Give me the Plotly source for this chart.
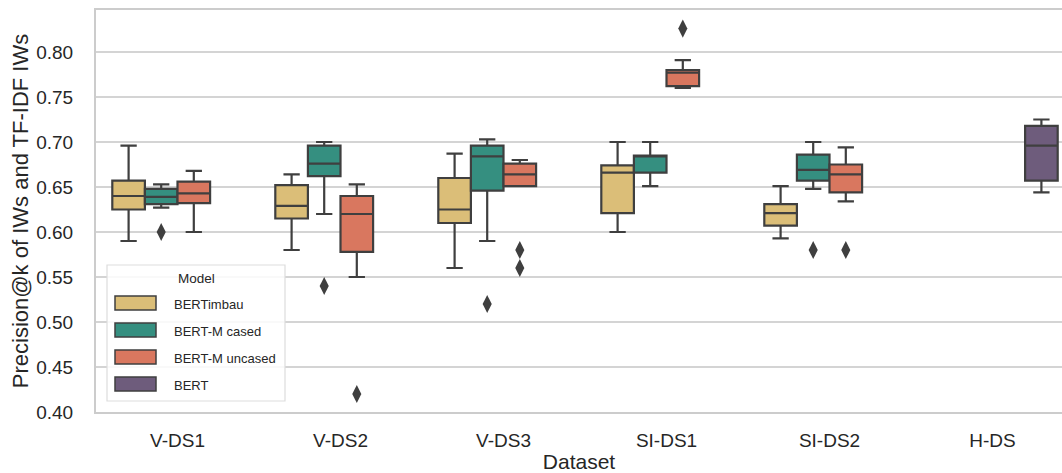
import plotly.graph_objects as go

# ---------------- data ----------------
datasets = ["V-DS1", "V-DS2", "V-DS3", "SI-DS1", "SI-DS2", "H-DS"]
models = ["BERTimbau", "BERT-M cased", "BERT-M uncased", "BERT"]

# per model: values per dataset (None = no box)
bertimbau_lower = [0.590, 0.580, 0.560, 0.600, 0.593, None]
bertimbau_q1 = [0.625, 0.615, 0.610, 0.621, 0.607, None]
bertimbau_median = [0.640, 0.629, 0.625, 0.666, 0.621, None]
bertimbau_q3 = [0.657, 0.652, 0.660, 0.674, 0.631, None]
bertimbau_upper = [0.696, 0.664, 0.687, 0.700, 0.651, None]

cased_lower = [0.627, 0.620, 0.590, 0.651, 0.648, None]
cased_q1 = [0.631, 0.662, 0.646, 0.666, 0.657, None]
cased_median = [0.639, 0.676, 0.684, 0.685, 0.669, None]
cased_q3 = [0.648, 0.696, 0.696, 0.685, 0.686, None]
cased_upper = [0.653, 0.700, 0.703, 0.700, 0.700, None]

uncased_lower = [0.600, 0.550, 0.651, 0.760, 0.634, None]
uncased_q1 = [0.632, 0.578, 0.651, 0.762, 0.644, None]
uncased_median = [0.643, 0.620, 0.664, 0.777, 0.664, None]
uncased_q3 = [0.656, 0.640, 0.676, 0.780, 0.675, None]
uncased_upper = [0.668, 0.653, 0.680, 0.791, 0.694, None]

bert_lower = [None, None, None, None, None, 0.644]
bert_q1 = [None, None, None, None, None, 0.657]
bert_median = [None, None, None, None, None, 0.696]
bert_q3 = [None, None, None, None, None, 0.718]
bert_upper = [None, None, None, None, None, 0.725]

# outliers: (dataset, value)
bertimbau_outliers = []
cased_outliers = [("V-DS1", 0.600), ("V-DS2", 0.540), ("V-DS3", 0.520), ("SI-DS2", 0.580)]
uncased_outliers = [("V-DS2", 0.420), ("V-DS3", 0.580), ("V-DS3", 0.560),
                    ("SI-DS1", 0.826), ("SI-DS2", 0.580)]
bert_outliers = []

y_ticks = [0.40, 0.45, 0.50, 0.55, 0.60, 0.65, 0.70, 0.75, 0.80]

# ---------------- style ----------------
colors = ["#DBBE78", "#358F80", "#D9775F", "#6E5C7C"]
edge = "#3F3F3F"
font_family = "Liberation Sans, Arial, sans-serif"
text_color = "#262626"

stats = [
    (bertimbau_lower, bertimbau_q1, bertimbau_median, bertimbau_q3, bertimbau_upper, bertimbau_outliers),
    (cased_lower, cased_q1, cased_median, cased_q3, cased_upper, cased_outliers),
    (uncased_lower, uncased_q1, uncased_median, uncased_q3, uncased_upper, uncased_outliers),
    (bert_lower, bert_q1, bert_median, bert_q3, bert_upper, bert_outliers),
]

n_hue = len(models)
slot = 0.8 / n_hue

fig = go.Figure()
for h, (name, col, st) in enumerate(zip(models, colors, stats)):
    lo, q1, med, q3, up, outs = st
    off = (h - (n_hue - 1) / 2) * slot
    xs, a, b, c, d, e = [], [], [], [], [], []
    for i, ds in enumerate(datasets):
        if med[i] is None:
            continue
        xs.append(i + off)
        a.append(lo[i]); b.append(q1[i]); c.append(med[i]); d.append(q3[i]); e.append(up[i])
    fig.add_trace(go.Box(
        x=xs, lowerfence=a, q1=b, median=c, q3=d, upperfence=e,
        width=slot, whiskerwidth=0.5, fillcolor=col,
        line=dict(color=edge, width=2.2), name=name, showlegend=False,
        boxpoints=False, hoverinfo="skip",
    ))
    if outs:
        fig.add_trace(go.Scatter(
            x=[datasets.index(ds) + off for ds, v in outs],
            y=[v for ds, v in outs], mode="markers",
            marker=dict(symbol="diamond-tall", size=13, color=edge,
                        line=dict(width=0)),
            showlegend=False, hoverinfo="skip",
        ))

# ---------------- layout ----------------
W, H = 1062, 473
ml, mr, mt, mb = 96, 0, 10, 61
pw, ph = W - ml - mr, H - mt - mb
unit = 163.0
x_lo = -0.5
x_hi = x_lo + pw / unit
y_lo = 0.40
y_hi = y_lo + ph / 900.0

fig.update_layout(
    width=W, height=H,
    margin=dict(l=ml, r=mr, t=mt, b=mb, pad=0),
    paper_bgcolor="white", plot_bgcolor="white",
    font=dict(family=font_family, color=text_color, size=19),
    boxmode="overlay",
    showlegend=False,
)
fig.update_xaxes(
    range=[x_lo, x_hi], tickvals=list(range(len(datasets))), ticktext=datasets,
    showgrid=False, zeroline=False, showline=True, mirror=True,
    linecolor="#CCCCCC", linewidth=2, ticks="", ticklabelstandoff=10,
    tickfont=dict(size=19, color=text_color),
    title=dict(text="Dataset", font=dict(size=21, color=text_color), standoff=5),
)
fig.update_yaxes(
    range=[y_lo, y_hi], tickvals=y_ticks, ticktext=[f"{v:.2f}" for v in y_ticks],
    showgrid=True, gridcolor="#D4D4D4", gridwidth=1.5, zeroline=False,
    showline=True, mirror=False, linecolor="#CCCCCC", linewidth=2,
    ticks="", ticklabelstandoff=17,
    tickfont=dict(size=19, color=text_color),
    title=dict(text="Precision@k of IWs and TF-IDF IWs",
               font=dict(size=22, color=text_color), standoff=2),
)

# ---------------- manual legend (paper coordinates) ----------------
def px_x(px):
    return (px - ml) / pw

def px_y(py):
    return (mt + ph - py) / ph

fig.add_shape(type="rect", xref="paper", yref="paper",
              x0=px_x(107), x1=px_x(285), y0=px_y(401), y1=px_y(265),
              fillcolor="rgba(255,255,255,0.85)", line=dict(color="#DDDDDD", width=1.2),
              layer="above")
fig.add_annotation(xref="paper", yref="paper", x=px_x(196), y=px_y(278),
                   text="Model", showarrow=False, xanchor="center", yanchor="middle",
                   font=dict(size=13.5, color=text_color))
rows = [303, 330, 357, 384]
for name, col, ry in zip(models, colors, rows):
    fig.add_shape(type="rect", xref="paper", yref="paper",
                  x0=px_x(115), x1=px_x(156), y0=px_y(ry + 7), y1=px_y(ry - 7),
                  fillcolor=col, line=dict(color=edge, width=1.5), layer="above")
    fig.add_annotation(xref="paper", yref="paper", x=px_x(172), y=px_y(ry + 1),
                       text=name, showarrow=False, xanchor="left", yanchor="middle",
                       font=dict(size=13, color=text_color))

fig.write_html("out.html")
